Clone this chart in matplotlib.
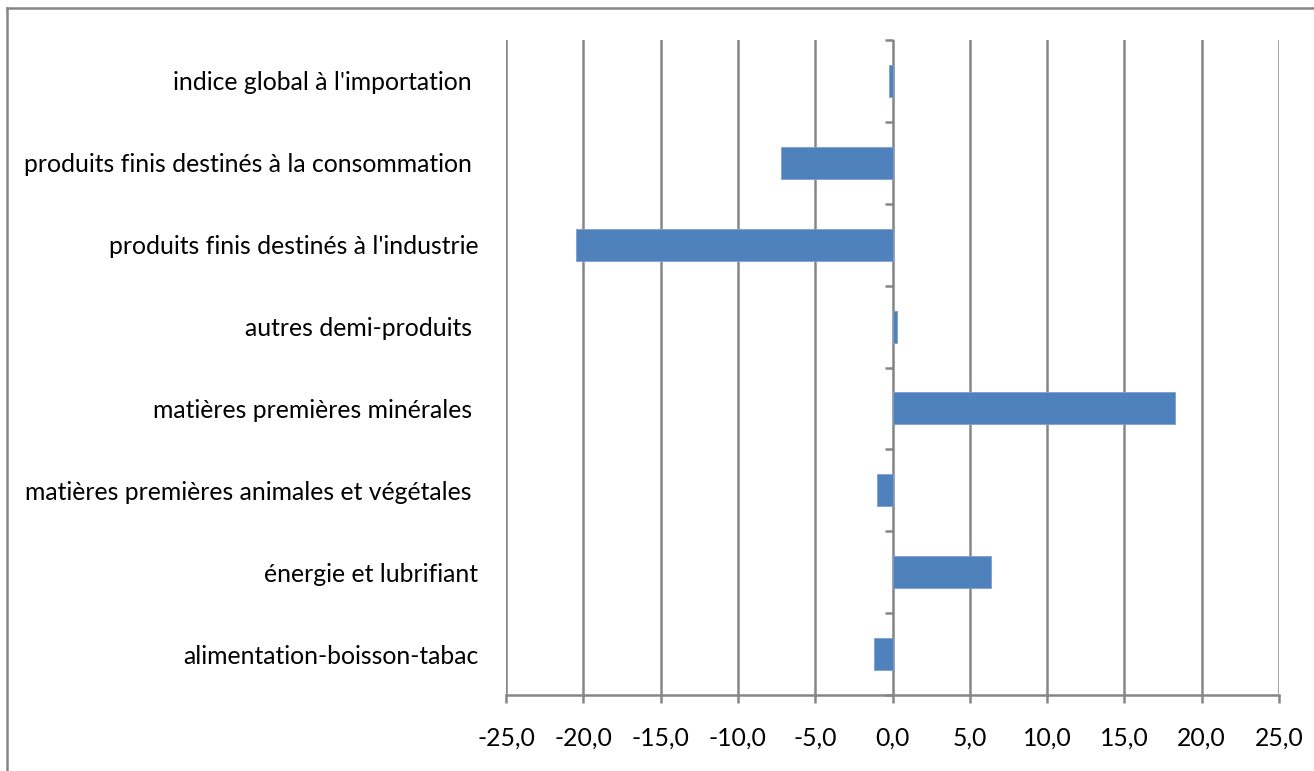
import matplotlib.pyplot as plt
import numpy as np
from matplotlib.lines import Line2D
from matplotlib.ticker import FuncFormatter

# categories from bottom to top
categories = [
    "alimentation-boisson-tabac",
    "énergie et lubrifiant",
    "matières premières animales et végétales ",
    "matières premières minérales ",
    "autres demi-produits ",
    "produits finis destinés à l'industrie",
    "produits finis destinés à la consommation ",
    "indice global à l'importation ",
]
values = [-1.2, 6.4, -1.0, 18.3, 0.3, -20.5, -7.2, -0.2]
xticks = [-25, -20, -15, -10, -5, 0, 5, 10, 15, 20, 25]

grey = '#868686'
blue = '#4F81BD'

plt.rcParams['font.family'] = ['Lato', 'DejaVu Sans']

fig = plt.figure(figsize=(13.14, 7.71), dpi=100)
ax = fig.add_axes([506 / 1314, 1 - 695 / 771, (1279 - 506) / 1314, (695 - 40) / 771])

y = np.arange(len(categories))
ax.barh(y, values, height=0.39, color=blue, edgecolor='#7F9FD0', linewidth=0.6, zorder=3)

ax.set_xlim(-25, 25)
ax.set_ylim(-0.5, len(categories) - 0.5)
ax.set_xticks(xticks)
ax.xaxis.set_major_formatter(FuncFormatter(lambda v, p: f"{v:.1f}".replace('.', ',')))
ax.set_yticks(y)
ax.set_yticklabels(categories)

ax.grid(True, axis='x', color=grey, linewidth=1.8)
ax.set_axisbelow(True)
for s in ['top', 'right', 'left']:
    ax.spines[s].set_visible(False)
ax.spines['bottom'].set_color(grey)
ax.spines['bottom'].set_linewidth(1.8)

ax.tick_params(axis='x', length=6, width=1.8, color=grey, pad=17, labelsize=17.8)
ax.tick_params(axis='y', length=0, pad=20, labelsize=17.8)

# category axis at x = 0 with tick marks between categories
sec = ax.secondary_yaxis(0.5)
sec.yaxis.set_ticks_position('left')
sec.set_yticks(np.arange(-0.5, len(categories), 1.0))
sec.set_yticklabels([])
sec.tick_params(length=6, width=1.8, color=grey, labelleft=False, labelright=False)
sec.spines['left'].set_color(grey)
sec.spines['left'].set_linewidth(1.8)

# chart frame (cropped at right and bottom)
fig.add_artist(Line2D([7 / 1314, 7 / 1314], [0, 1 - 8 / 771], color=grey, linewidth=1.8))
fig.add_artist(Line2D([7 / 1314, 1], [1 - 8 / 771, 1 - 8 / 771], color=grey, linewidth=1.8))

fig.savefig('out.png', dpi=100)
